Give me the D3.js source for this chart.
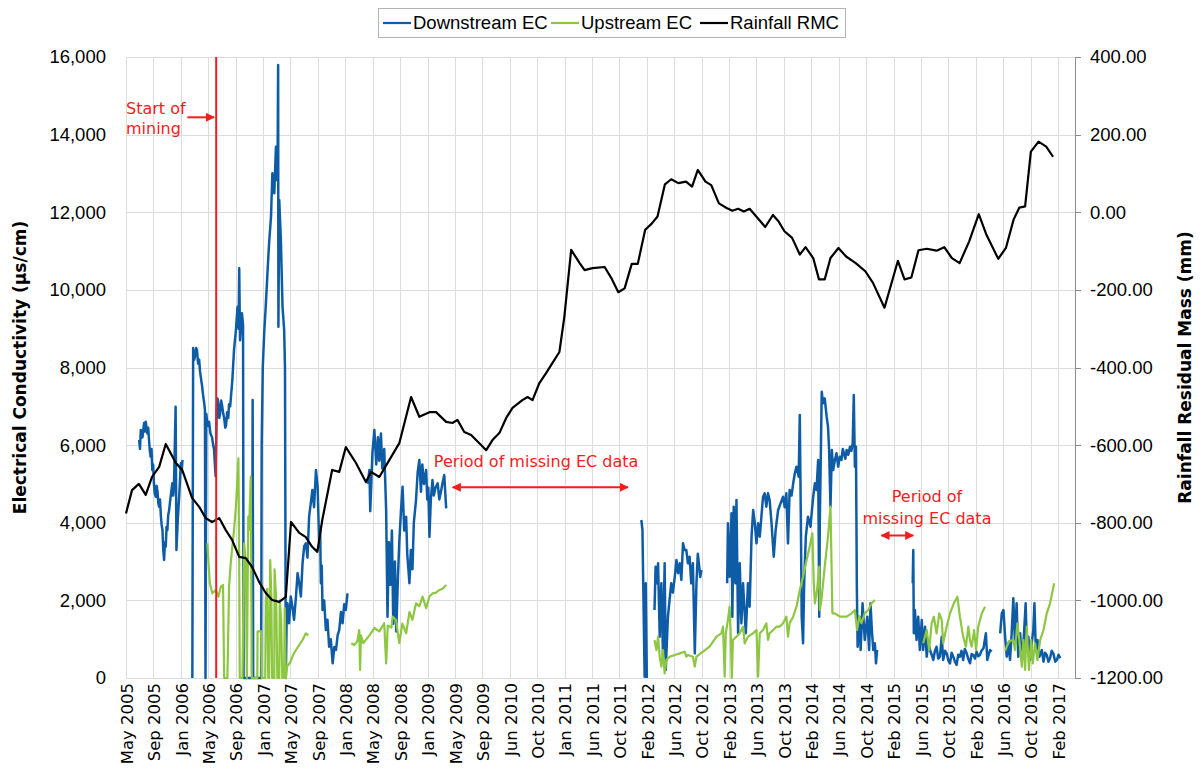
<!DOCTYPE html>
<html>
<head>
<meta charset="utf-8">
<script src="https://cdn.jsdelivr.net/npm/d3@7"></script>
<style>
  body { margin: 0; background: #fff; }
  svg { display: block; }
</style>
</head>
<body>
<div id="chart"></div>
<script>
// category labels along the bottom (one every tick of the category axis)
const xLabels = ["May 2005","Sep 2005","Jan 2006","May 2006","Sep 2006","Jan 2007","May 2007","Sep 2007",
  "Jan 2008","May 2008","Sep 2008","Jan 2009","May 2009","Sep 2009","Jun 2010","Oct 2010","Jan 2011",
  "Jun 2011","Oct 2011","Feb 2012","Jun 2012","Oct 2012","Feb 2013","Jun 2013","Oct 2013","Feb 2014",
  "Jun 2014","Oct 2014","Feb 2015","Jun 2015","Oct 2015","Feb 2016","Jun 2016","Oct 2016","Feb 2017"];
const lastPosition = 34.62;   // last record, in label units
const leftTicks = [0, 2000, 4000, 6000, 8000, 10000, 12000, 14000, 16000];
const rightTicks = [-1200, -1000, -800, -600, -400, -200, 0, 200, 400];

// [position (label units), EC us/cm]; null = no data
const downstreamEC = [
  [0.48,6132],[0.51,5900],[0.54,6390],[0.60,6200],[0.66,6570],[0.69,6350],[0.72,6604],[0.78,6300],[0.81,6450],[0.84,6132],
  [0.87,5850],[0.90,5700],[0.93,5900],[0.96,5359],[0.99,5500],[1.02,5000],[1.05,4750],[1.09,4671],[1.12,4950],[1.15,4800],
  [1.18,4500],[1.21,4414],[1.24,4600],[1.27,4200],[1.30,3950],[1.33,3813],[1.36,3300],[1.39,3040],[1.42,3500],[1.45,3383],
  [1.48,3900],[1.51,3813],[1.54,4200],[1.57,4300],[1.60,4500],[1.63,4671],[1.66,4850],[1.69,5016],[1.72,4700],[1.75,4929],
  [1.81,6990],[1.84,3298],[1.89,4100],[1.94,4671],[1.97,5100],[2.00,5532],[2.03,5300],[2.06,5617],null,
  [2.42,0],[2.45,8500],[2.49,8200],[2.52,8300],[2.56,8500],[2.59,8450],[2.63,8100],[2.67,8200],[2.70,7900],[2.74,7700],
  [2.78,7500],[2.81,7300],[2.85,7100],[2.88,6900],[2.90,0],[2.93,6800],[2.98,6500],[3.03,6600],[3.08,6300],[3.14,6200],
  [3.18,6000],[3.21,5900],[3.27,5200],[3.31,6900],[3.34,7200],[3.36,7100],[3.40,6700],[3.43,6800],[3.47,7150],[3.51,7000],
  [3.55,6800],[3.58,6700],[3.62,6450],[3.65,6500],[3.69,6850],[3.73,6700],[3.76,7050],[3.80,7000],[3.88,7678],[3.94,8451],
  [4.01,8966],[4.07,9566],[4.11,9000],[4.13,10556],[4.16,8700],[4.23,9396],[4.27,9095],[4.29,0],[4.60,0],[4.62,7163],
  [4.64,0],[4.93,0],[4.95,6000],[4.99,8000],[5.04,8881],[5.10,9600],[5.16,10427],[5.22,11200],[5.29,11885],[5.34,13003],
  [5.41,12488],[5.47,13689],[5.50,12831],[5.53,13300],[5.55,15794],[5.56,9052],[5.59,12316],[5.65,11285],[5.71,9566],
  [5.77,8966],[5.80,8000],[5.83,0],[5.86,1500],[5.89,1924],[5.95,1410],[6.01,2100],[6.07,1837],[6.13,1500],[6.20,2095],
  [6.26,2700],[6.32,2439],[6.38,2100],[6.44,2954],[6.50,3400],[6.56,3469],[6.62,3100],[6.68,4156],[6.74,4500],[6.80,4844],
  [6.86,4400],[6.93,5359],[6.99,4929],[7.05,3383],[7.08,3900],[7.11,2439],[7.14,2900],[7.17,1752],[7.23,2000],[7.29,1237],
  [7.35,1500],[7.41,807],[7.47,1000],[7.54,378],[7.60,800],[7.66,721],[7.72,1100],[7.78,1237],[7.84,1700],[7.90,1410],
  [7.96,1900],[8.02,1752],[8.08,2182],null,
  [8.82,5000],[8.88,5359],[8.91,4300],[8.99,5800],[9.06,6390],[9.13,5500],[9.19,6200],[9.24,5600],[9.30,6300],[9.35,5400],
  [9.42,5900],[9.49,4328],[9.54,1580],[9.59,3500],[9.64,2400],[9.70,3800],[9.75,1400],[9.81,3000],[9.86,1200],[9.92,2600],
  [9.97,3500],[10.03,4300],[10.09,4929],[10.15,3800],[10.22,4156],[10.26,3200],[10.34,2440],[10.39,3300],[10.45,2800],
  [10.50,4000],[10.58,4586],[10.64,5300],[10.70,5617],[10.76,4800],[10.81,5500],[10.87,5000],[10.95,5359],[10.99,4600],
  [11.03,4900],[11.07,3640],[11.12,4600],[11.18,5100],[11.23,4700],[11.29,4900],[11.37,5016],[11.43,4600],[11.49,4800],
  [11.54,5000],[11.61,5230],[11.68,4371],null,
  [18.80,4071],[18.84,3813],[18.86,2868],[18.92,34],[18.96,2439],[19.00,0],null,
  [19.28,1752],[19.32,2868],[19.37,2440],[19.41,2954],[19.47,1065],[19.53,2440],[19.59,549],[19.65,2954],[19.69,206],
  [19.77,1580],[19.83,2010],[19.89,2440],[19.95,2200],[20.02,2610],[20.08,3040],[20.14,2700],[20.20,2954],[20.26,2525],
  [20.32,3469],[20.38,3298],[20.44,3298],[20.50,2954],[20.56,3126],[20.62,2440],[20.68,2954],[20.75,635],[20.81,2440],
  [20.86,3200],[20.90,2954],[20.95,2600],[20.99,2782],null,
  [21.93,2440],[21.96,3985],[22.02,2610],[22.09,4243],[22.12,1580],[22.17,4414],[22.23,2440],[22.27,4586],[22.33,1152],
  [22.39,2954],[22.45,1410],[22.51,2440],[22.61,1152],[22.69,2440],[22.75,1837],[22.82,3641],[22.88,4328],[22.94,3985],
  [23.00,3469],[23.06,3985],[23.12,3641],[23.18,4156],[23.24,4671],[23.30,4758],[23.36,4414],[23.42,4758],[23.48,4586],
  [23.55,3985],[23.63,3126],[23.70,3813],[23.79,4328],[23.88,4500],[23.97,4671],[24.03,4400],[24.09,4758],[24.15,3469],
  [24.21,4844],[24.28,4700],[24.34,5016],[24.40,5274],[24.46,5445],[24.54,5187],[24.58,6776],[24.62,3985],[24.65,1580],
  [24.70,894],[24.74,2440],[24.80,3641],[24.88,4156],[24.97,3898],[25.02,4300],[25.07,4671],[25.13,5016],[25.19,4844],
  [25.25,5617],[25.29,1580],[25.31,3985],[25.35,5874],[25.38,7377],[25.43,7077],[25.49,7206],[25.56,6733],[25.61,6475],
  [25.65,5874],[25.70,4414],[25.75,5874],[25.80,5359],[25.86,5617],[25.92,5789],[25.98,5445],[26.04,5703],[26.10,5617],
  [26.15,5900],[26.19,5789],[26.24,5650],[26.29,5874],[26.35,5750],[26.41,5960],[26.46,5850],[26.51,6046],[26.55,7291],
  [26.59,5445],[26.63,5960],[26.66,2440],[26.69,807],[26.75,1580],[26.80,721],[26.87,1924],[26.95,979],[27.04,1580],
  [27.11,721],[27.16,1924],[27.21,1237],[27.26,721],[27.32,894],[27.36,378],[27.40,721],null,
  [28.70,2440],[28.72,3298],[28.74,1152],[28.78,1752],[28.84,979],[28.90,1580],[28.96,721],[29.03,1494],[29.08,721],
  [29.15,1322],[29.21,549],[29.27,900],[29.33,721],[29.39,600],[29.45,464],[29.51,700],[29.57,807],[29.63,500],[29.69,549],
  [29.76,1065],[29.81,464],[29.88,700],[29.94,635],[30.00,450],[30.06,378],[30.12,650],[30.18,549],[30.24,420],[30.30,335],
  [30.36,600],[30.42,549],[30.48,700],[30.54,464],[30.60,750],[30.67,635],[30.73,480],[30.79,378],[30.85,620],[30.91,593],
  [30.97,500],[31.03,678],[31.09,560],[31.15,593],[31.21,700],[31.28,764],[31.37,1152],[31.42,464],[31.52,721],[31.58,678],null,
  [31.89,1152],[31.95,1666],[32.01,1752],[32.07,1065],[32.13,549],[32.19,894],[32.25,464],[32.31,1152],[32.37,2053],
  [32.43,894],[32.49,1924],[32.55,549],[32.62,1152],[32.68,464],[32.74,894],[32.82,1924],[32.86,894],[32.92,1065],
  [32.98,464],[33.04,894],[33.10,1237],[33.14,1924],[33.19,721],[33.25,979],[33.32,549],[33.41,721],[33.47,421],
  [33.53,650],[33.59,593],[33.65,420],[33.71,507],[33.77,700],[33.83,635],[33.90,420],[33.96,464],[34.02,600],[34.08,507]
];

const upstreamEC = [
  [2.97,3469],[3.01,2954],[3.06,2440],[3.15,2182],[3.28,2267],[3.37,2095],[3.46,2353],[3.54,2396],[3.58,0],[3.70,0],
  [3.76,2353],[3.82,2954],[3.94,3813],[4.01,4414],[4.10,5660],[4.13,2954],[4.15,0],[4.25,0],[4.31,3469],[4.37,2954],
  [4.41,0],[4.46,4156],[4.49,3813],[4.55,5187],[4.59,0],[4.79,0],[4.80,1200],[4.93,1200],[4.95,0],[5.08,0],[5.10,2000],
  [5.15,2300],[5.19,0],[5.22,0],[5.26,3040],[5.30,2200],[5.33,0],[5.41,0],[5.42,2800],[5.48,2000],[5.52,0],[5.59,0],
  [5.61,2000],[5.66,1500],[5.70,0],[5.77,0],[5.79,1800],[5.83,0],[5.88,300],[5.99,400],[6.10,600],[6.20,721],[6.32,850],
  [6.44,979],[6.56,1152],[6.65,1100],null,
  [8.22,894],[8.33,850],[8.44,950],[8.51,1237],[8.54,206],[8.57,1100],[8.66,900],[8.77,1000],[8.88,1100],[9.06,1288],
  [9.24,1200],[9.42,1410],[9.49,378],[9.55,1350],[9.68,1300],[9.73,1580],[9.85,1494],[9.97,900],[10.08,1400],[10.22,1152],
  [10.34,1700],[10.45,1500],[10.58,1924],[10.70,1850],[10.82,2095],[10.95,1800],[11.07,2100],[11.19,2182],[11.31,2200],
  [11.43,2267],[11.55,2300],[11.68,2396],null,
  [19.28,979],[19.35,721],[19.41,1065],[19.47,549],[19.53,292],[19.59,721],[19.65,120],[19.71,464],[19.83,549],[20.02,593],
  [20.20,635],[20.38,678],[20.44,549],[20.50,593],[20.68,549],[20.75,292],[20.81,549],[21.05,678],[21.29,807],[21.54,1065],
  [21.72,1152],[21.78,1322],[21.84,34],[21.88,1152],[21.96,1494],[22.02,1837],[22.06,1152],[22.10,0],[22.14,979],
  [22.27,1065],[22.39,1152],[22.51,1322],[22.57,894],[22.69,1065],[22.88,1152],[23.00,1237],[23.06,34],[23.12,1152],
  [23.24,1237],[23.36,1410],[23.42,979],[23.48,1152],[23.61,1237],[23.73,1322],[23.85,1322],[23.97,1410],[24.09,1580],
  [24.15,1065],[24.21,1410],[24.34,1580],[24.46,1837],[24.58,2267],[24.70,2610],[24.83,3040],[24.94,3383],[25.04,3727],
  [25.09,2440],[25.13,1924],[25.21,2267],[25.29,2868],[25.31,1752],[25.37,2010],[25.49,2868],[25.61,3641],[25.70,4414],
  [25.77,1666],[25.86,1666],[26.04,1580],[26.29,1580],[26.47,1666],[26.59,1752],[26.67,1237],[26.75,1580],[26.83,1410],
  [26.95,1666],[27.08,1752],[27.20,1924],[27.32,2010],null,
  [29.08,894],[29.21,1237],[29.30,721],[29.39,1410],[29.47,1580],[29.57,1152],[29.67,1666],[29.76,1494],[29.81,894],
  [29.91,1237],[30.06,1666],[30.20,1924],[30.33,2095],[30.42,1580],[30.54,1065],[30.64,807],[30.73,1322],[30.79,979],
  [30.85,807],[30.94,1237],[31.01,721],[31.09,1322],[31.22,1666],[31.34,1837],null,
  [32.07,700],[32.21,950],[32.37,979],[32.43,721],[32.52,1410],[32.59,979],[32.68,292],[32.74,979],[32.80,206],[32.86,1322],
  [32.94,206],[33.02,979],[33.08,378],[33.16,894],[33.25,464],[33.35,979],[33.47,1237],[33.59,1666],[33.71,1924],
  [33.81,2267],[33.86,2440]
];

// [position (label units), rainfall residual mass mm]
const rainfallRMC = [
  [0,-776],[0.22,-716],[0.47,-700],[0.72,-728],[0.95,-682],[1.21,-656],[1.45,-597],[1.82,-646],[2.05,-664],[2.41,-736],
  [2.67,-759],[2.91,-788],[3.14,-798],[3.40,-788],[3.64,-819],[3.87,-844],[4.13,-888],[4.37,-891],[4.60,-914],[4.86,-953],
  [5.10,-981],[5.33,-999],[5.59,-1004],[5.83,-991],[6.02,-798],[6.32,-826],[6.56,-837],[6.79,-862],[6.98,-875],[7.16,-793],
  [7.52,-664],[7.78,-669],[8.02,-605],[8.39,-646],[8.75,-695],[8.94,-669],[9.24,-682],[9.61,-638],[9.97,-595],[10.40,-476],
  [10.70,-527],[11.07,-515],[11.31,-515],[11.68,-540],[11.91,-543],[12.09,-535],[12.34,-566],[12.59,-574],[12.89,-595],
  [13.14,-613],[13.37,-587],[13.62,-569],[13.87,-530],[14.10,-504],[14.46,-484],[14.65,-476],[14.83,-484],[15.08,-440],
  [15.33,-414],[15.56,-388],[15.81,-360],[15.99,-270],[16.24,-97],[16.55,-131],[16.73,-149],[17.02,-144],[17.46,-141],
  [17.70,-169],[17.96,-206],[18.19,-196],[18.45,-133],[18.67,-133],[18.94,-45],[19.17,-30],[19.39,-11],[19.66,72],
  [19.89,85],[20.15,75],[20.43,79],[20.65,66],[20.86,109],[21.14,79],[21.35,70],[21.63,23],[21.91,11],[22.12,4],[22.33,9],
  [22.54,2],[22.75,9],[23.04,-15],[23.32,-38],[23.60,-7],[23.81,-24],[24.02,-49],[24.30,-66],[24.58,-109],[24.79,-90],
  [25.07,-118],[25.28,-173],[25.49,-173],[25.70,-118],[25.99,-92],[26.27,-114],[26.62,-131],[26.97,-152],[27.25,-182],
  [27.67,-246],[28.16,-125],[28.40,-173],[28.65,-168],[28.91,-98],[29.21,-94],[29.57,-99],[29.85,-90],[30.13,-118],
  [30.41,-131],[30.76,-75],[31.11,-5],[31.39,-58],[31.82,-120],[32.10,-92],[32.38,-19],[32.59,12],[32.80,15],[33.01,156],
  [33.29,182],[33.57,169],[33.82,143]
];

const miningStart = 3.29;   // position of the "start of mining" marker

const width = 1202, height = 774;
const margin = {top: 57, right: 127, bottom: 96, left: 126};
const plotRight = width - margin.right;
const plotBottom = height - margin.bottom;

const svg = d3.select('#chart').append('svg')
  .attr('width', width)
  .attr('height', height);

const x = d3.scaleLinear().domain([0, lastPosition]).range([margin.left, plotRight]);
const y = d3.scaleLinear().domain([0, 16000]).range([plotBottom, margin.top]);
const yR = d3.scaleLinear().domain([-1200, 400]).range([plotBottom, margin.top]);

const red = '#f41c1c';
svg.append('defs').append('marker')
  .attr('id', 'arrow')
  .attr('viewBox', '0 0 10 10')
  .attr('refX', 9).attr('refY', 5)
  .attr('markerWidth', 9).attr('markerHeight', 9)
  .attr('markerUnits', 'userSpaceOnUse')
  .attr('orient', 'auto-start-reverse')
  .append('path').attr('d', 'M0,0L10,5L0,10z').attr('fill', red);

// gridlines
const grid = svg.append('g').attr('stroke', '#dcdcdc').attr('stroke-width', 1);
grid.selectAll('.h').data(leftTicks).join('line')
  .attr('x1', margin.left).attr('x2', plotRight)
  .attr('y1', d => Math.round(y(d)) + 0.5).attr('y2', d => Math.round(y(d)) + 0.5);
grid.selectAll('.v').data(xLabels).join('line')
  .attr('x1', (d, i) => Math.round(x(i)) + 0.5).attr('x2', (d, i) => Math.round(x(i)) + 0.5)
  .attr('y1', margin.top).attr('y2', plotBottom);

// series
const line = d3.line()
  .defined(d => d !== null)
  .x(d => x(d[0]));

svg.append('path')
  .datum(downstreamEC)
  .attr('fill', 'none')
  .attr('stroke', '#0f5ca6')
  .attr('stroke-width', 2.5)
  .attr('stroke-linejoin', 'round')
  .attr('d', line.y(d => y(d[1])));

svg.append('path')
  .datum(upstreamEC)
  .attr('fill', 'none')
  .attr('stroke', '#8dc641')
  .attr('stroke-width', 2.2)
  .attr('stroke-linejoin', 'round')
  .attr('d', line.y(d => y(d[1])));

svg.append('path')
  .datum(rainfallRMC)
  .attr('fill', 'none')
  .attr('stroke', '#000')
  .attr('stroke-width', 2.2)
  .attr('stroke-linejoin', 'round')
  .attr('d', line.y(d => yR(d[1])));

// annotations
svg.append('line')
  .attr('x1', x(miningStart)).attr('x2', x(miningStart))
  .attr('y1', y(16000)).attr('y2', y(0))
  .attr('stroke', red).attr('stroke-width', 2);

function arrow(t0, t1, v, both) {
  const a = svg.append('line')
    .attr('x1', x(t0)).attr('x2', x(t1))
    .attr('y1', y(v)).attr('y2', y(v))
    .attr('stroke', red).attr('stroke-width', 2)
    .attr('marker-end', 'url(#arrow)');
  if (both) a.attr('marker-start', 'url(#arrow)');
}
arrow(2.24, 3.21, 14446, false);
arrow(11.92, 18.31, 4913, true);
arrow(27.56, 28.72, 3672, true);

const note = svg.append('g')
  .attr('fill', red)
  .style('font-family', '"DejaVu Sans", Verdana, sans-serif')
  .style('font-size', '16px');
note.append('text').attr('x', x(0)).attr('y', y(14531)).text('Start of');
note.append('text').attr('x', x(0)).attr('y', y(14016)).text('mining');
note.append('text').attr('x', x(14.96)).attr('y', y(5436)).attr('text-anchor', 'middle').text('Period of missing EC data');
note.append('text').attr('x', x(29.22)).attr('y', y(4535)).attr('text-anchor', 'middle').text('Period of');
note.append('text').attr('x', x(29.22)).attr('y', y(3968)).attr('text-anchor', 'middle').text('missing EC data');

// left axis labels
svg.append('g')
  .style('font-family', '"Liberation Sans", Arial, sans-serif')
  .style('font-size', '18.5px')
  .selectAll('text').data(leftTicks).join('text')
  .attr('x', margin.left - 20)
  .attr('y', d => y(d))
  .attr('dy', '0.35em')
  .attr('text-anchor', 'end')
  .text(d => d3.format(',')(d));

// right axis
const rightAxis = svg.append('g').attr('transform', `translate(${plotRight},0)`);
rightAxis.append('line')
  .attr('x1', 0.5).attr('x2', 0.5)
  .attr('y1', margin.top).attr('y2', plotBottom)
  .attr('stroke', '#8c8c8c');
rightAxis.selectAll('.tick').data(rightTicks).join('line')
  .attr('x1', 0).attr('x2', 6)
  .attr('y1', d => Math.round(yR(d)) + 0.5).attr('y2', d => Math.round(yR(d)) + 0.5)
  .attr('stroke', '#8c8c8c');
rightAxis.selectAll('text').data(rightTicks).join('text')
  .attr('x', 15)
  .attr('y', d => yR(d))
  .attr('dy', '0.35em')
  .style('font-family', '"Liberation Sans", Arial, sans-serif')
  .style('font-size', '18.5px')
  .text(d => d.toFixed(2));

// bottom labels
svg.append('g')
  .style('font-family', '"DejaVu Sans", Verdana, sans-serif')
  .style('font-size', '16.5px')
  .selectAll('text').data(xLabels).join('text')
  .attr('transform', (d, i) => `translate(${x(i) + 1},${plotBottom + 5}) rotate(-90)`)
  .attr('dy', '0.35em')
  .attr('text-anchor', 'end')
  .text(d => d);

// axis titles
const midY = (margin.top + plotBottom) / 2;
svg.append('text')
  .attr('transform', `translate(20,${midY}) rotate(-90)`)
  .attr('dy', '0.35em')
  .attr('text-anchor', 'middle')
  .style('font-family', '"DejaVu Sans", Verdana, sans-serif')
  .style('font-weight', 'bold')
  .style('font-size', '17px')
  .text('Electrical Conductivity  (µs/cm)');
svg.append('text')
  .attr('transform', `translate(1185,${midY}) rotate(-90)`)
  .attr('dy', '0.35em')
  .attr('text-anchor', 'middle')
  .style('font-family', '"DejaVu Sans", Verdana, sans-serif')
  .style('font-weight', 'bold')
  .style('font-size', '17px')
  .text('Rainfall Residual Mass (mm)');

// legend
const legendItems = [
  {name: 'Downstream EC', color: '#0f5ca6', x: 383},
  {name: 'Upstream EC', color: '#8dc641', x: 551},
  {name: 'Rainfall RMC', color: '#000', x: 700}
];
const legend = svg.append('g');
legend.append('rect')
  .attr('x', 378.5).attr('y', 8.5).attr('width', 467).attr('height', 29)
  .attr('fill', '#fff').attr('stroke', '#b4b4b4');
const li = legend.selectAll('g.item').data(legendItems).join('g')
  .attr('transform', d => `translate(${d.x},23)`);
li.append('line')
  .attr('x1', 0).attr('x2', 28)
  .attr('stroke', d => d.color).attr('stroke-width', 2.2);
li.append('text')
  .attr('x', 30).attr('dy', '0.35em')
  .style('font-family', '"Liberation Sans", Arial, sans-serif')
  .style('font-size', '18.5px')
  .text(d => d.name);
</script>
</body>
</html>
